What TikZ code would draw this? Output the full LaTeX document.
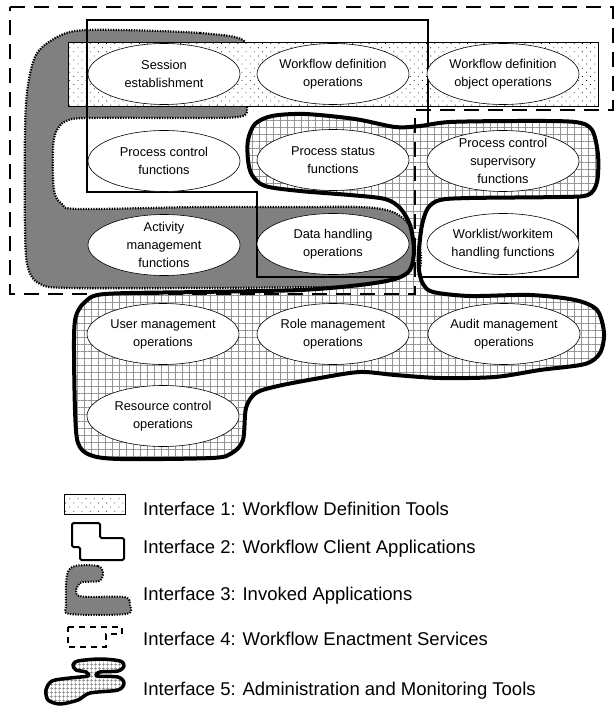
\documentclass[tikz,border=0pt]{standalone}
\usepackage{fontspec}
\setmainfont{Liberation Sans}
\usetikzlibrary{shapes.geometric,patterns.meta}
\begin{document}
\begin{tikzpicture}[x=1pt,y=-1pt,
  op/.style={ellipse, draw, line width=0.6pt, fill=white, minimum width=152pt, minimum height=61pt,
    inner xsep=-2pt, inner ysep=-8pt, align=center, font=\fontsize{12.8}{18}\selectfont},
  ifone/.style={fill=white, postaction={pattern={Dots[radius=0.55pt,distance=5.8pt,angle=45]}, pattern color=black},
    postaction={draw, line width=0.8pt}},
  iftwo/.style={draw, line width=1.6pt, line join=miter},
  ifthree/.style={fill=black!50, draw=black, line width=2.2pt, dash pattern=on 1.3pt off 1.3pt},
  iffour/.style={draw, line width=2.2pt, dash pattern=on 15pt off 9pt},
  iffive/.style={fill=white, postaction={pattern={Hatch[distance=7pt,line width=0.5pt]}, pattern color=black!42},
    postaction={draw, line width=4pt, line join=round}},
  iconfive/.style={fill=white, postaction={pattern={Hatch[distance=4pt,line width=0.5pt]}, pattern color=black!50},
    postaction={draw, line width=3.5pt, line join=round}},
  legtext/.style={anchor=base west, inner sep=0pt, font=\fontsize{18.5}{20}\selectfont}
]
\useasboundingbox (0,0) rectangle (615,708);

% Interface 3: invoked applications (grey C shape)
\path[ifthree] plot[smooth cycle, tension=0.55] coordinates {
  (243,40) (200,33) (120,30) (75,31) (52,40) (36,55) (28,85) (25,130) (25,230) (28,268)
  (40,284) (70,288) (200,288) (330,287) (395,286) (415,278) (421,262) (418,240) (407,222)
  (390,211) (360,207) (300,207) (200,207) (80,209) (62,204) (54,190) (53,150) (56,132)
  (66,121) (90,118) (200,118) (238,117) (247,112) (246,100) (244,60)};

% Interface 1: workflow definition tools (dotted box)
\path[ifone] (68,42) rectangle (598,106);

% Interface 2: workflow client applications
\draw[iftwo] (87,20) -- (428,20) -- (428,125) -- (578,125) -- (578,277) -- (257,277) -- (257,192) -- (87,192) -- cycle;

% Interface 5: administration and monitoring tools
\path[iffive] plot[smooth cycle, tension=0.5] coordinates {
  (248,140) (255,124) (272,116) (305,114) (355,119) (395,127) (420,126) (450,122) (520,121)
  (575,122) (592,130) (598,155) (597,182) (588,195) (560,197) (470,198) (440,200) (428,208)
  (422,225) (419,250) (419,270) (423,284) (433,292) (470,296) (530,295) (575,300) (597,310)
  (604,333) (600,353) (585,364) (540,370) (495,377) (440,378) (395,375) (360,372) (320,378)
  (278,386) (256,393) (246,408) (243,440) (232,453) (212,458) (120,459) (90,455) (78,443)
  (75,410) (74,340) (76,316) (85,302) (105,294) (200,292) (300,290) (360,285) (395,279)
  (410,270) (414,250) (410,225) (400,208) (385,199) (350,195) (300,191) (265,186) (252,175)
  (248,160)};

% Interface 4: workflow enactment services
\draw[iffour] (10,7) -- (613,7) -- (613,110) -- (415,110) -- (415,294) -- (10,294) -- cycle;

% Operations
\node[op] (se)   at (164,74)  {Session\\establishment};
\node[op] (wdo)  at (333,74)  {Workflow definition\\operations};
\node[op] (wdoo) at (503,74)  {Workflow definition\\object operations};
\node[op] (pcf)  at (164,161) {Process control\\functions};
\node[op] (psf)  at (333,160) {Process status\\functions};
\node[op] (pcs)  at (503,161) {Process control\\supervisory\\functions};
\node[op] (amf)  at (164,245) {Activity\\management\\functions};
\node[op] (dho)  at (333,244) {Data handling\\operations};
\node[op] (whf)  at (503,244) {Worklist/workitem\\handling functions};
\node[op] (umo)  at (163,334) {User management\\operations};
\node[op] (rmo)  at (333,334) {Role management\\operations};
\node[op] (amo)  at (504,334) {Audit management\\operations};
\node[op] (rco)  at (163,416) {Resource control\\operations};

% Legend
\path[ifone] (64,494) rectangle (125,514);
\draw[line width=2pt, rounded corners=1.5pt] (72,523) -- (100,523) -- (100,538) -- (124,538) -- (124,560) -- (80,560) -- (80,547) -- (72,547) -- cycle;
\path[ifthree, line width=2pt] plot[smooth cycle, tension=0.5] coordinates {
  (75,566) (98,566) (103,573) (99,581) (80,583) (79,596) (124,597) (130,605) (126,614)
  (70,614) (66,605) (67,575)};
\draw[line width=2pt, dash pattern=on 6pt off 5pt] (68,627) -- (122,627) -- (122,634) -- (106,634) -- (106,647) -- (68,647) -- cycle;
\path[iconfive] plot[smooth cycle, tension=0.5] coordinates {
  (78,661) (100,659) (120,661) (124,666) (118,671) (100,672) (97,676) (118,677) (124,683)
  (118,690) (90,693) (78,700) (60,704) (48,700) (46,690) (52,681) (70,678) (88,676)
  (86,672) (76,670) (73,665)};

\node[legtext] (l1) at (143,515) {Interface 1: Workflow Definition Tools};
\node[legtext] (l2) at (143,553) {Interface 2: Workflow Client Applications};
\node[legtext] (l3) at (143,600) {Interface 3: Invoked Applications};
\node[legtext] (l4) at (143,645) {Interface 4: Workflow Enactment Services};
\node[legtext] (l5) at (143,695) {Interface 5: Administration and Monitoring Tools};
\end{tikzpicture}
\end{document}
